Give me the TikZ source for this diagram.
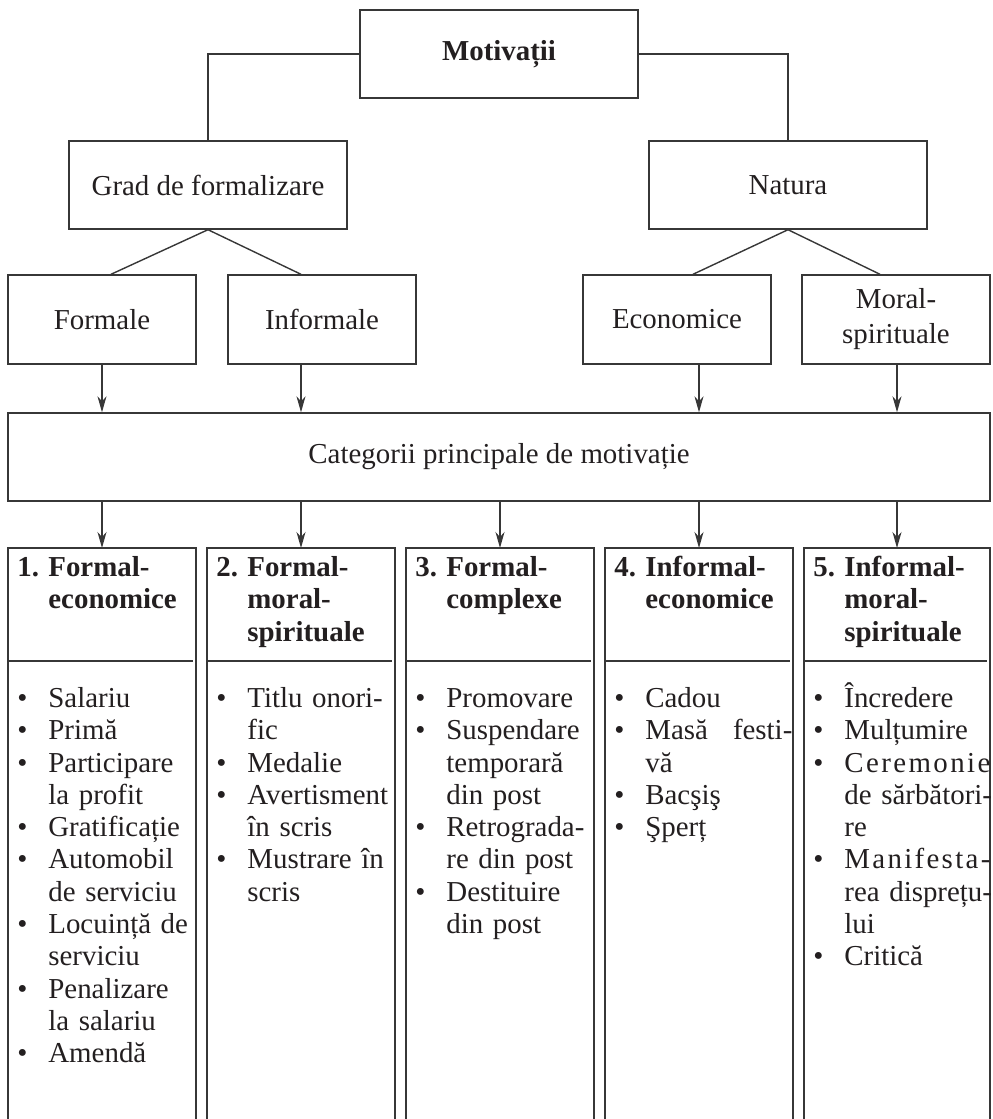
\documentclass[tikz,border=0pt]{standalone}
\usepackage{fontspec}
\setmainfont{Liberation Serif}
\usetikzlibrary{arrows.meta}
\definecolor{ink}{RGB}{35,31,32}
\definecolor{rulec}{RGB}{55,55,55}
% list helpers: bullet, hanging indent, item number
\newcommand\bulx{\makebox[15.5pt][l]{\textbullet}}
\newcommand\indx{\makebox[15.5pt][l]{}}
\newcommand\numx[1]{\makebox[15.5pt][l]{#1}}
\newcommand\spreadx[2]{\makebox[#1][s]{#2}}
\begin{document}
\begin{tikzpicture}[x=0.5pt,y=-0.5pt,
  every node/.style={text=ink, font=\fontsize{14.45}{16.15}\selectfont},
  box/.style={draw=rulec, line width=0.7pt, inner sep=0pt, align=center},
  link/.style={draw=rulec, line width=0.7pt},
  arr/.style={link, -{Stealth[length=8pt,width=4.5pt,inset=2.5pt]}},
  colbox/.style={draw=rulec, line width=0.7pt},
  coltext/.style={anchor=north west, inner sep=0pt, text width=90pt, align=left}]
\useasboundingbox (0,0) rectangle (992,1119);

% top level
\node[box, minimum width=139pt, minimum height=44pt,
      font=\fontsize{14.45}{16.15}\selectfont\bfseries] (mot) at (499,54) {Motivații};
\node[box, minimum width=139pt, minimum height=44pt] (grad) at (208,185) {Grad de formalizare};
\node[box, minimum width=139pt, minimum height=44pt] (nat) at (788,185) {Natura};

% second level
\node[box, minimum width=94pt, minimum height=44.5pt] (formale) at (102,319.5) {Formale};
\node[box, minimum width=94pt, minimum height=44.5pt] (informale) at (322,319.5) {Informale};
\node[box, minimum width=94pt, minimum height=44.5pt] (econ) at (677,319.5) {Economice};
\node[box, minimum width=94pt, minimum height=44.5pt,
      font=\fontsize{14.45}{17.5}\selectfont] (moral) at (896,319.5) {Moral-\\spirituale};

% main categories
\node[box, minimum width=491pt, minimum height=44pt] (cat) at (499,457) {Categorii principale de motivație};

% open-bottom columns with header rule
\foreach \i/\l/\r in {1/8/196, 2/207/395, 3/406/594, 4/605/793, 5/804/990}{
  \draw[colbox] (\l,1119) -- (\l,548) -- (\r,548) -- (\r,1119);
  \draw[colbox] (\l,661) -- (\r-3,661);
  \coordinate (c\i) at ({(\l+\r)/2},548);
}

% connectors
\draw[link] (mot.west) -| (grad.north);
\draw[link] (mot.east) -| (nat.north);
\draw[link] (grad.south) -- ([xshift=4.5pt]formale.north);
\draw[link] (grad.south) -- ([xshift=-10.5pt]informale.north);
\draw[link] (nat.south) -- ([xshift=8pt]econ.north);
\draw[link] (nat.south) -- ([xshift=-8pt]moral.north);

\draw[arr] (formale.south -| c1) -- (c1 |- cat.north);
\draw[arr] (informale.south -| c2) -- (c2 |- cat.north);
\draw[arr] (econ.south -| c4) -- (c4 |- cat.north);
\draw[arr] (moral.south -| c5) -- (c5 |- cat.north);

\foreach \i in {1,...,5}{
  \draw[arr] (cat.south -| c\i) -- (c\i);
}

% column headers
\node[coltext, font=\fontsize{14.45}{16.15}\selectfont\bfseries] (h1) at (17,553.4)
  {\strut\numx{1.}Formal-\\\strut\indx economice};
\node[coltext, font=\fontsize{14.45}{16.15}\selectfont\bfseries] (h2) at (216,553.4)
  {\strut\numx{2.}Formal-\\\strut\indx moral-\\\strut\indx spirituale};
\node[coltext, font=\fontsize{14.45}{16.15}\selectfont\bfseries] (h3) at (415,553.4)
  {\strut\numx{3.}Formal-\\\strut\indx complexe};
\node[coltext, font=\fontsize{14.45}{16.15}\selectfont\bfseries] (h4) at (614,553.4)
  {\strut\numx{4.}Informal-\\\strut\indx economice};
\node[coltext, font=\fontsize{14.45}{16.15}\selectfont\bfseries] (h5) at (813,553.4)
  {\strut\numx{5.}Informal-\\\strut\indx moral-\\\strut\indx spirituale};

% column lists
\node[coltext] (l1) at (17,684.4)
  {\strut\bulx Salariu\\
   \strut\bulx Primă\\
   \strut\bulx Participare\\
   \strut\indx la profit\\
   \strut\bulx Gratificație\\
   \strut\bulx Automobil\\
   \strut\indx de serviciu\\
   \strut\bulx Locuință de\\
   \strut\indx serviciu\\
   \strut\bulx Penalizare\\
   \strut\indx la salariu\\
   \strut\bulx Amendă};
\node[coltext] (l2) at (216,684.4)
  {\strut\bulx Titlu onori-\\
   \strut\indx fic\\
   \strut\bulx Medalie\\
   \strut\bulx Avertisment\\
   \strut\indx în scris\\
   \strut\bulx Mustrare în\\
   \strut\indx scris};
\node[coltext] (l3) at (415,684.4)
  {\strut\bulx Promovare\\
   \strut\bulx Suspendare\\
   \strut\indx temporară\\
   \strut\indx din post\\
   \strut\bulx Retrograda-\\
   \strut\indx re din post\\
   \strut\bulx Destituire\\
   \strut\indx din post};
\node[coltext] (l4) at (614,684.4)
  {\strut\bulx Cadou\\
   \strut\bulx \spreadx{73.5pt}{Masă\hfill festi-}\\
   \strut\indx vă\\
   \strut\bulx Bacşiş\\
   \strut\bulx Şperț};
\node[coltext] (l5) at (813,684.4)
  {\strut\bulx \smash{Î}ncredere\\
   \strut\bulx Mulțumire\\
   \strut\bulx \spreadx{73pt}{C\hfill e\hfill r\hfill e\hfill m\hfill o\hfill n\hfill i\hfill e}\\
   \strut\indx de sărbători-\\
   \strut\indx re\\
   \strut\bulx \spreadx{73pt}{M\hfill a\hfill n\hfill i\hfill f\hfill e\hfill s\hfill t\hfill a\hfill -}\\
   \strut\indx rea disprețu-\\
   \strut\indx lui\\
   \strut\bulx Critică};
\end{tikzpicture}
\end{document}
